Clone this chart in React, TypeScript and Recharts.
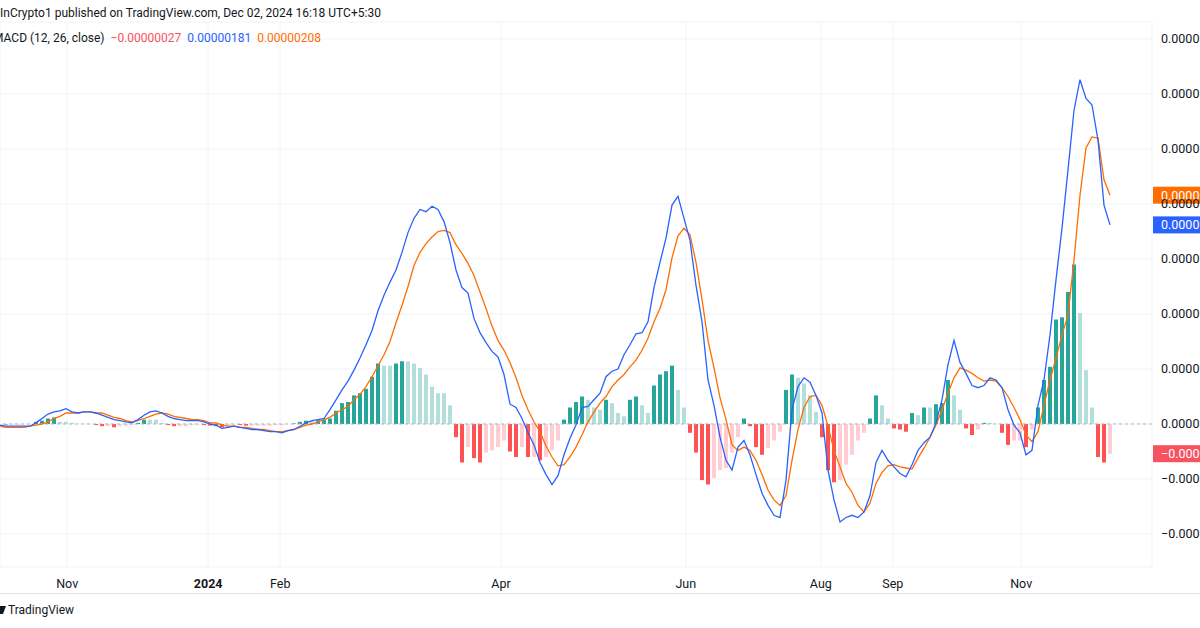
import React from "react";
import {
  ComposedChart, Bar, Line, XAxis, YAxis, CartesianGrid, ReferenceLine, Cell,
} from "recharts";

// values in units of 1e-8 (0.00000181 -> 181), one entry per bar
const macd = [
  -1, -2, -2, -2, -2, -2, 1, 5, 9, 11,
  12, 14, 11, 10, 11, 11, 10, 8, 6, 4,
  3, 2, 1, 4, 8, 11, 12, 10, 7, 5,
  4, 3, 3, 3, 2, 0, -1, -4, -3, -2,
  -3, -4, -5, -5, -6, -7, -7, -8, -6, -5,
  -2, 1, 3, 4, 5, 13, 22, 31, 39, 49,
  60, 72, 85, 103, 117, 129, 140, 156, 174, 187,
  195, 193, 198, 195, 184, 165, 140, 124, 119, 96,
  83, 74, 66, 61, 45, 18, 15, 5, -8, -19,
  -35, -46, -55, -47, -28, -13, -1, 15, 16, 22,
  28, 43, 48, 50, 63, 72, 82, 83, 93, 124,
  147, 169, 199, 207, 187, 167, 126, 93, 40, 17,
  -12, -33, -42, -21, -15, -28, -46, -63, -74, -83,
  -85, -51, 13, 34, 42, 38, 26, 10, -42, -69,
  -89, -85, -83, -85, -80, -65, -35, -24, -33, -39,
  -45, -48, -37, -24, -17, -12, 1, 22, 54, 76,
  56, 46, 35, 33, 35, 42, 40, 33, 13, -1,
  -8, -28, -24, 17, 40, 81, 131, 178, 231, 285,
  313, 296, 290, 258, 199, 181,
];

const signal = [
  -2, -3, -3, -3, -3, -2, -1, 0, 2, 5,
  7, 10, 10, 10, 11, 11, 10, 10, 8, 6,
  5, 3, 2, 3, 5, 7, 9, 10, 9, 7,
  6, 5, 4, 4, 3, 1, 1, -1, -2, -2,
  -3, -3, -4, -5, -5, -6, -7, -7, -6, -5,
  -3, -1, 0, 2, 4, 6, 10, 13, 16, 22,
  27, 34, 43, 53, 63, 75, 92, 108, 125, 144,
  156, 164, 170, 175, 176, 174, 163, 155, 146, 135,
  120, 105, 89, 76, 67, 56, 42, 26, 13, 2,
  -7, -20, -30, -38, -37, -30, -21, -10, 2, 11,
  19, 25, 34, 40, 45, 52, 58, 67, 78, 93,
  105, 122, 151, 171, 178, 172, 147, 113, 76, 51,
  24, 4, -19, -24, -21, -24, -33, -46, -60, -69,
  -74, -65, -33, -5, 15, 25, 26, 17, -2, -24,
  -39, -54, -62, -74, -80, -72, -54, -44, -38, -37,
  -39, -40, -41, -31, -22, -12, -1, 13, 28, 42,
  51, 49, 46, 42, 39, 40, 39, 33, 25, 15,
  4, -10, -16, -7, 17, 40, 60, 81, 99, 149,
  208, 251, 261, 260, 222, 208,
];

const hist = [
  0, -0.5, -0.5, -0.5, 0, 0, 2, 3, 5, 6,
  2, 2, 1, 0, 0, 0, -1, -2, -2, -3,
  -2, -1.5, -1, 1, 4, 4, 4, 1, -1, -2,
  -2, -2, -1, -0.5, -1, -1.5, -2, -3, -1.5, -0.5,
  -1, -1.5, -1.5, -1.5, -1.5, -1.5, -1, -1, 0, 0.5,
  2, 3, 3, 3.5, 4, 5, 12, 19, 20, 26,
  28, 32, 43, 55, 53, 53, 55, 57, 57, 55,
  51, 45, 34, 28, 28, 17, -12, -35, -21, -31,
  -35, -26, -24, -21, -15, -25, -30, -21, -30, -30,
  -33, -30, -24, -15, 4, 15, 20, 25, 22, 15,
  13, 22, 19, 10, 7, 22, 25, 17, 10, 35,
  45, 48, 53, 31, 15, -8, -26, -51, -55, -49,
  -42, -40, -26, -12, 5, -2, -21, -28, -22, -15,
  -7, 31, 45, 42, 37, 26, 11, -12, -42, -53,
  -51, -37, -28, -15, -8, 5, 26, 17, 5, -4,
  -5, -7, 10, 8, 15, 15, 18, 19, 40, 26,
  13, -4, -10, -5, 1, 1, 0, -8, -19, -15,
  -15, -21, -5, 15, 40, 52, 95, 97, 120, 145,
  101, 49, 15, -30, -35, -27,
];

// time axis: bar index where each label sits
const monthPos = [11.2, 34.7, 46.7, 83.5, 114.3, 136.8, 148.8, 170.2];
const monthLabels = ["Nov", "2024", "Feb", "Apr", "Jun", "Aug", "Sep", "Nov"];

const priceTicks = [350, 300, 250, 200, 150, 100, 50, 0, -50, -100];

const C = {
  macd: "#2962FF",
  signal: "#FF6D00",
  growAbove: "#26A69A",
  fallAbove: "#B2DFDB",
  growBelow: "#FFCDD2",
  fallBelow: "#FF5252",
  text: "#131722",
  grid: "#F0F3FA",
  histTag: "#F7525F",
};

const data = macd.map((m, i) => ({ i, macd: m, signal: signal[i], hist: hist[i] }));

const histColor = (i: number) => {
  const v = hist[i];
  const p = i > 0 ? hist[i - 1] : 0;
  if (v >= 0) return v > p ? C.growAbove : C.fallAbove;
  return v < p ? C.fallBelow : C.growBelow;
};

const fmt = (v: number) => {
  const s = (Math.abs(v) * 1e-8).toFixed(8);
  return v < 0 ? "\u2212" + s : s;
};

const FONT = "Roboto, 'Liberation Sans', sans-serif";

const YTick = (props: any) => {
  const { x, y, payload } = props;
  return (
    <text x={x + 9} y={y} dy={4.5} fontSize={12.5} fill={C.text} fontFamily={FONT} textAnchor="start">
      {fmt(payload.value)}
    </text>
  );
};

const XTick = (props: any) => {
  const { x, y, index } = props;
  const label = monthLabels[index];
  return (
    <text x={x} y={y} dy={13} fontSize={12.5} fill={C.text} fontFamily={FONT}
      textAnchor="middle" fontWeight={label === "2024" ? 700 : 400}>
      {label}
    </text>
  );
};

const PriceTag = (props: any) => {
  const { viewBox, fill, value } = props;
  if (!viewBox) return null;
  const x = viewBox.x + viewBox.width + 1;
  const y = viewBox.y;
  return (
    <g>
      <rect x={x} y={y - 8.5} width={50} height={17} fill={fill} />
      <text x={x + 8} y={y + 4.5} fontSize={12.5} fill="#ffffff" fontFamily={FONT}>
        {fmt(value)}
      </text>
    </g>
  );
};

const last = macd.length - 1;

export default function App() {
  return (
    <div style={{ position: "absolute", left: 0, top: 0, width: 1200, height: 628, background: "#fff", overflow: "hidden", fontFamily: FONT, color: C.text }}>
      <ComposedChart
        width={1200}
        height={628}
        data={data}
        margin={{ top: 22, right: 0, bottom: 41, left: 0 }}
      >
        <CartesianGrid stroke={C.grid} strokeWidth={1} />
        <XAxis
          dataKey="i"
          type="number"
          domain={[0, 192]}
          ticks={monthPos}
          tick={<XTick />}
          axisLine={false}
          tickLine={false}
          height={20}
          interval={0}
          allowDataOverflow
        />
        <YAxis
          orientation="right"
          domain={[-130, 365.45]}
          ticks={priceTicks}
          tick={<YTick />}
          axisLine={false}
          tickLine={false}
          tickSize={0}
          tickMargin={0}
          width={48}
          interval={0}
          allowDataOverflow
        />
        <ReferenceLine y={0} stroke="#B2B5BE" strokeDasharray="3 3" />
        <Bar dataKey="hist" barSize={4} isAnimationActive={false}>
          {data.map((d) => (
            <Cell key={d.i} fill={histColor(d.i)} />
          ))}
        </Bar>
        <Line type="linear" dataKey="signal" stroke={C.signal} strokeWidth={1.3} dot={false} isAnimationActive={false} />
        <Line type="linear" dataKey="macd" stroke={C.macd} strokeWidth={1.3} dot={false} isAnimationActive={false} />
        <ReferenceLine y={signal[last]} stroke="none" ifOverflow="visible"
          label={<PriceTag fill={C.signal} value={signal[last]} />} />
        <ReferenceLine y={macd[last]} stroke="none" ifOverflow="visible"
          label={<PriceTag fill={C.macd} value={macd[last]} />} />
        <ReferenceLine y={hist[last]} stroke="none" ifOverflow="visible"
          label={<PriceTag fill={C.histTag} value={hist[last]} />} />
      </ComposedChart>

      <div style={{ position: "absolute", left: 0, top: 6, fontSize: 12, whiteSpace: "nowrap" }}>
        InCrypto1 published on TradingView.com, Dec 02, 2024 16:18 UTC+5:30
      </div>
      <div style={{ position: "absolute", left: -7, top: 31, fontSize: 12, whiteSpace: "nowrap" }}>
        MACD (12, 26, close)
        <span style={{ color: C.histTag, marginLeft: 6 }}>{fmt(hist[last])}</span>
        <span style={{ color: C.macd, marginLeft: 6 }}>{fmt(macd[last])}</span>
        <span style={{ color: C.signal, marginLeft: 6 }}>{fmt(signal[last])}</span>
      </div>

      <div style={{ position: "absolute", left: 0, top: 593, width: 1200, height: 1, background: "#E0E3EB" }} />
      <div style={{ position: "absolute", left: 0, top: 603, fontSize: 12, whiteSpace: "nowrap", display: "flex", alignItems: "center" }}>
        <svg width={6} height={10} style={{ marginRight: 2 }}>
          <polygon points="0,1 6,1 3,9 0,9" fill={C.text} />
        </svg>
        TradingView
      </div>
    </div>
  );
}
